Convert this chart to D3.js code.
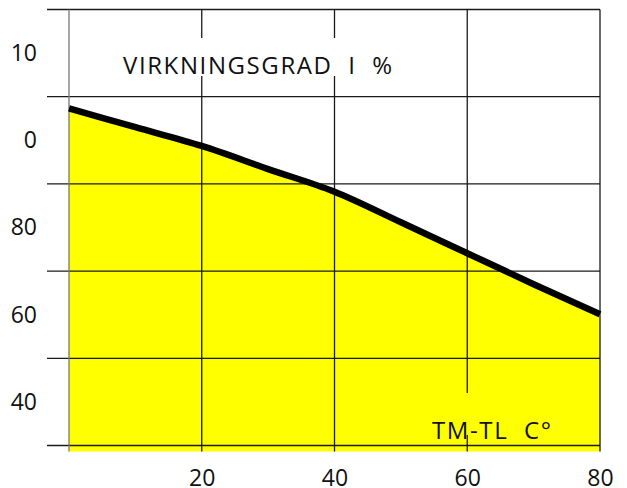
<!DOCTYPE html>
<html>
<head>
<meta charset="utf-8">
<script src="https://cdn.jsdelivr.net/npm/d3@7/dist/d3.min.js"></script>
<style>
  body { margin: 0; background: #fff; }
  svg { display: block; font-family: 'Open Sans', sans-serif; }
</style>
</head>
<body>
<div id="container"></div>
<script>
// temperature difference TM-TL (C) and efficiency (%)
const tempDiff = [0, 10, 20, 30, 40, 50, 60, 70, 80];
const efficiency = [107.3, 103.0, 98.7, 93.4, 88.2, 81.2, 74.1, 67.0, 60.1];

const xGrid = [0, 20, 40, 60, 80];
const xLabelValues = [20, 40, 60, 80];
const yGrid = [30, 50, 70, 90, 110, 130];
const yLabelValues = [40, 60, 80, 100, 120];
const yLabelText = ['40', '60', '80', '0', '10'];
const fillBase = 28.6;

const titleText = 'VIRKNINGSGRAD  I  %';
const xTitleText = 'TM-TL  C°';

const width = 627, height = 488;
const x = d3.scaleLinear().domain([0, 80]).range([69, 600]);
const y = d3.scaleLinear().domain([30, 130]).range([445.5, 9.5]);

const svg = d3.select('#container').append('svg')
  .attr('width', width)
  .attr('height', height);

const points = tempDiff.map((t, i) => [t, efficiency[i]]);

// yellow area under the curve
svg.append('path')
  .datum(points)
  .attr('fill', '#ffff00')
  .attr('d', d3.area()
    .curve(d3.curveMonotoneX)
    .x((d) => x(d[0]))
    .y0(y(fillBase))
    .y1((d) => y(d[1])));

// grid
svg.append('g').selectAll('line')
  .data(yGrid).enter()
  .append('line')
  .attr('x1', 47)
  .attr('x2', x(80))
  .attr('y1', (d) => y(d))
  .attr('y2', (d) => y(d))
  .attr('stroke', '#1a1a1a')
  .attr('stroke-width', 1.3);

svg.append('g').selectAll('line')
  .data(xGrid).enter()
  .append('line')
  .attr('x1', (d) => x(d))
  .attr('x2', (d) => x(d))
  .attr('y1', y(130))
  .attr('y2', y(fillBase))
  .attr('stroke', (d) => d === 0 ? '#777' : '#1a1a1a')
  .attr('stroke-width', 1.3);

// curve
svg.append('path')
  .datum(points)
  .attr('fill', 'none')
  .attr('stroke', '#000')
  .attr('stroke-width', 6.5)
  .attr('stroke-linejoin', 'round')
  .attr('d', d3.line()
    .curve(d3.curveMonotoneX)
    .x((d) => x(d[0]))
    .y((d) => y(d[1])));

// axes labels
const yAxis = svg.append('g')
  .attr('transform', 'translate(37,0)')
  .call(d3.axisLeft(y)
    .tickValues(yLabelValues)
    .tickSize(0)
    .tickPadding(0)
    .tickFormat((d, i) => yLabelText[i]));
yAxis.select('.domain').remove();
yAxis.selectAll('text')
  .attr('font-family', "'Open Sans', sans-serif")
  .attr('font-size', 23)
  .attr('fill', '#111');

const xAxis = svg.append('g')
  .attr('transform', 'translate(0,470)')
  .call(d3.axisBottom(x)
    .tickValues(xLabelValues)
    .tickSize(0)
    .tickPadding(0)
    .tickFormat(d3.format('d')));
xAxis.select('.domain').remove();
xAxis.selectAll('text')
  .attr('font-family', "'Open Sans', sans-serif")
  .attr('font-size', 23)
  .attr('fill', '#111');

// title with white backing
const titleG = svg.append('g');
const titleRect = titleG.append('rect').attr('fill', '#fff');
const title = titleG.append('text')
  .attr('x', 123)
  .attr('y', 74)
  .attr('font-size', 24)
  .attr('letter-spacing', 1.6)
  .style('white-space', 'pre')
  .attr('fill', '#111')
  .text(titleText);
const tb = title.node().getBBox();
titleRect.attr('x', tb.x - 6).attr('y', 38).attr('width', tb.width + 12).attr('height', 38);

// x title with yellow backing
const xtG = svg.append('g');
const xtRect = xtG.append('rect').attr('fill', '#ffff00');
const xTitle = xtG.append('text')
  .attr('x', 432)
  .attr('y', 439)
  .attr('font-size', 24)
  .attr('letter-spacing', 1.6)
  .style('white-space', 'pre')
  .attr('fill', '#111')
  .text(xTitleText);
const xb = xTitle.node().getBBox();
xtRect.attr('x', xb.x - 6).attr('y', 393).attr('width', xb.width + 12).attr('height', 42);
</script>
</body>
</html>
